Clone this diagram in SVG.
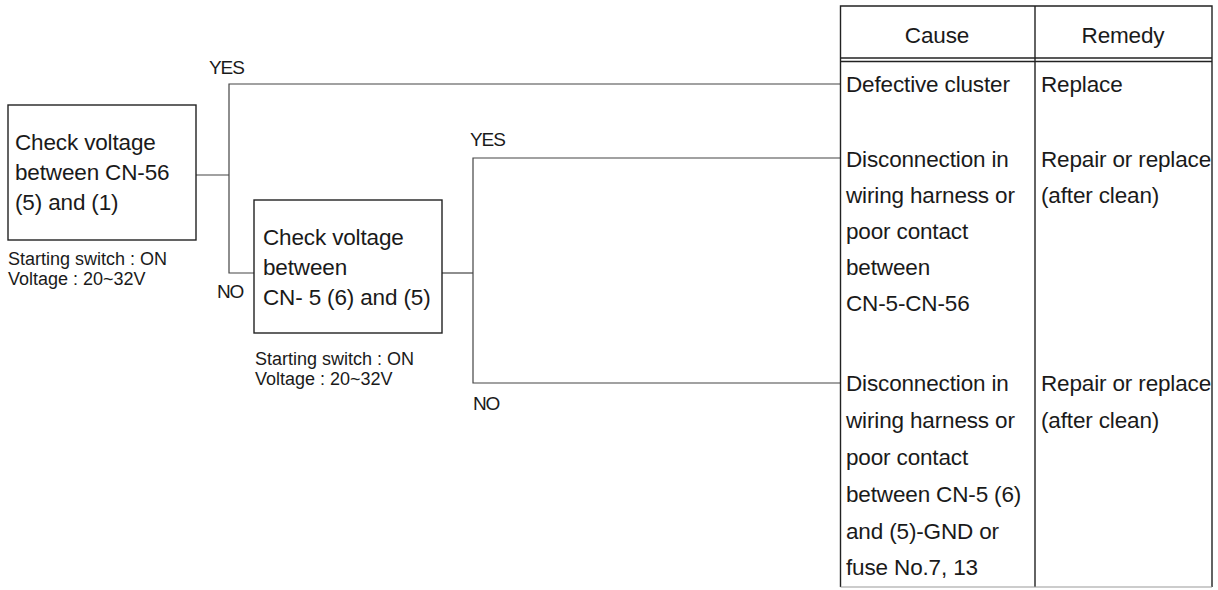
<svg xmlns="http://www.w3.org/2000/svg" width="1218" height="590" viewBox="0 0 1218 590">
<style>
text{font-family:"Liberation Sans",Arial,sans-serif;fill:#1a1a1a}
.big{font-size:22.5px;letter-spacing:-0.15px}
.small{font-size:18px;letter-spacing:0px}
.lab{font-size:19px;letter-spacing:-1.1px}
.box{fill:#fff;stroke:#222;stroke-width:1.4}
.con{fill:none;stroke:#444;stroke-width:1.2}
.tb{fill:none;stroke:#222;stroke-width:1.4}
</style>
<rect width="1218" height="590" fill="#fff"/>
<g id="connectors">
<polyline class="con" points="196,175 229,175"/>
<polyline class="con" points="840,84 229,84 229,273 254,273"/>
<polyline class="con" points="442,273 473,273"/>
<polyline class="con" points="840,158 473,158 473,383 840,383"/>
<text class="lab" x="209" y="74">YES</text>
<text class="lab" x="217" y="298">NO</text>
<text class="lab" x="470" y="146">YES</text>
<text class="lab" x="473" y="410">NO</text>
</g>
<g id="node-check1">
<rect class="box" x="8" y="105" width="188" height="135"/>
<text class="big" x="15" y="150">Check voltage</text>
<text class="big" x="15" y="180">between CN-56</text>
<text class="big" x="15" y="210">(5) and (1)</text>
<text class="small" x="8" y="265">Starting switch : ON</text>
<text class="small" x="8" y="285">Voltage : 20~32V</text>
</g>
<g id="node-check2">
<rect class="box" x="254" y="200" width="188" height="133"/>
<text class="big" x="263" y="245">Check voltage</text>
<text class="big" x="263" y="275">between</text>
<text class="big" x="263" y="305">CN- 5 (6) and (5)</text>
<text class="small" x="255" y="365">Starting switch : ON</text>
<text class="small" x="255" y="385">Voltage : 20~32V</text>
</g>
<g id="table">
<polyline class="tb" points="840.5,587 840.5,6 1212,6 1212,587"/>
<line class="tb" x1="1035" y1="6" x2="1035" y2="587"/>
<line x1="840.5" y1="587" x2="1212" y2="587" stroke="#999" stroke-width="1.2"/>
<line class="tb" x1="840.5" y1="58" x2="1212" y2="58" stroke-width="1.2"/>
<line class="tb" x1="840.5" y1="61.5" x2="1212" y2="61.5" stroke-width="1.2"/>
<text class="big" x="937" y="43" text-anchor="middle">Cause</text>
<text class="big" x="1123" y="43" text-anchor="middle">Remedy</text>
</g>
<g id="row-cluster">
<text class="big" x="846" y="92">Defective cluster</text>
<text class="big" x="1041" y="92">Replace</text>
</g>
<g id="row-harness1">
<text class="big" x="846" y="167">Disconnection in</text>
<text class="big" x="846" y="203">wiring harness or</text>
<text class="big" x="846" y="239">poor contact</text>
<text class="big" x="846" y="275">between</text>
<text class="big" x="846" y="311">CN-5-CN-56</text>
<text class="big" x="1041" y="167">Repair or replace</text>
<text class="big" x="1041" y="203">(after clean)</text>
</g>
<g id="row-harness2">
<text class="big" x="846" y="391">Disconnection in</text>
<text class="big" x="846" y="428">wiring harness or</text>
<text class="big" x="846" y="465">poor contact</text>
<text class="big" x="846" y="502">between CN-5 (6)</text>
<text class="big" x="846" y="539">and (5)-GND or</text>
<text class="big" x="846" y="575">fuse No.7, 13</text>
<text class="big" x="1041" y="391">Repair or replace</text>
<text class="big" x="1041" y="428">(after clean)</text>
</g>
</svg>
